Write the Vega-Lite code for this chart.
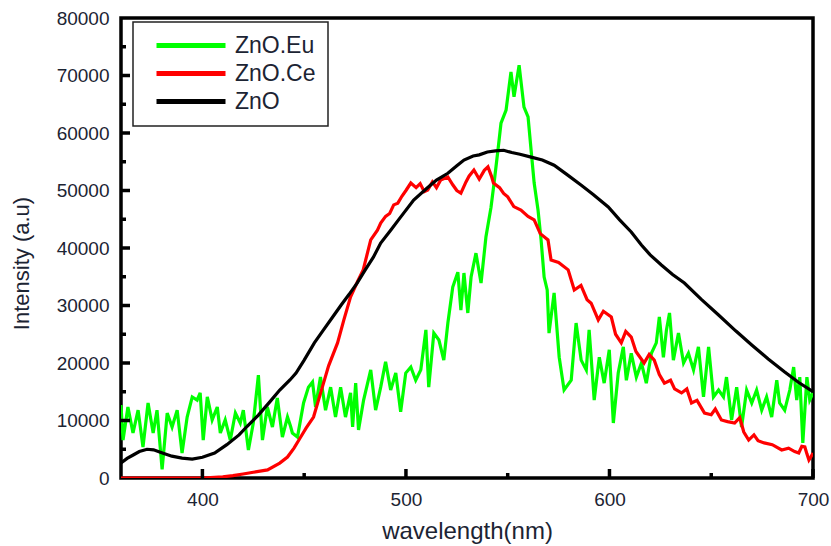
{
  "$schema": "https://vega.github.io/schema/vega-lite/v6.json",
  "width": 692,
  "height": 460,
  "autosize": {"type": "none"},
  "padding": {"left": 121, "top": 18, "right": 18, "bottom": 68},
  "background": "white",
  "config": {
    "view": {"stroke": "black", "strokeWidth": 3.5},
    "font": "Liberation Sans",
    "axis": {"grid": false, "ticks": false, "domain": false, "labelColor": "#1c2433", "labelFontSize": 19, "titleFontWeight": "normal", "titleColor": "#1c2433", "labelFont": "Liberation Sans", "titleFont": "Liberation Sans"}
  },
  "datasets": {
    "xmaj": [{"v":400},{"v":500},{"v":600},{"v":700}],
    "xmin": [{"v":450},{"v":550},{"v":650}],
    "ymaj": [{"v":10000},{"v":20000},{"v":30000},{"v":40000},{"v":50000},{"v":60000},{"v":70000}],
    "ymin": [{"v":5000},{"v":15000},{"v":25000},{"v":35000},{"v":45000},{"v":55000},{"v":65000},{"v":75000}]
  },
  "data": {"values": [
    {"s":"ZnO.Eu","x":360,"y":12700},{"s":"ZnO.Eu","x":361,"y":6600},{"s":"ZnO.Eu","x":363.4,"y":12350},{"s":"ZnO.Eu","x":365.9,"y":7830},{"s":"ZnO.Eu","x":368.4,"y":11800},{"s":"ZnO.Eu","x":370.8,"y":5400},{"s":"ZnO.Eu","x":373.3,"y":13050},{"s":"ZnO.Eu","x":375.8,"y":7830},{"s":"ZnO.Eu","x":377.7,"y":11800},{"s":"ZnO.Eu","x":380.2,"y":1500},{"s":"ZnO.Eu","x":382.7,"y":11300},{"s":"ZnO.Eu","x":385.1,"y":8870},{"s":"ZnO.Eu","x":387.6,"y":11800},{"s":"ZnO.Eu","x":390,"y":4350},{"s":"ZnO.Eu","x":392.5,"y":10600},{"s":"ZnO.Eu","x":395,"y":14100},{"s":"ZnO.Eu","x":397.4,"y":13560},{"s":"ZnO.Eu","x":398.9,"y":14800},{"s":"ZnO.Eu","x":400.4,"y":6600},{"s":"ZnO.Eu","x":402.4,"y":14100},{"s":"ZnO.Eu","x":404.8,"y":10100},{"s":"ZnO.Eu","x":407.3,"y":12350},{"s":"ZnO.Eu","x":408.8,"y":7830},{"s":"ZnO.Eu","x":411.2,"y":10100},{"s":"ZnO.Eu","x":413.7,"y":6600},{"s":"ZnO.Eu","x":416.2,"y":11300},{"s":"ZnO.Eu","x":418.6,"y":9560},{"s":"ZnO.Eu","x":420.1,"y":11800},{"s":"ZnO.Eu","x":422.6,"y":4870},{"s":"ZnO.Eu","x":425,"y":9560},{"s":"ZnO.Eu","x":427.5,"y":17900},{"s":"ZnO.Eu","x":429.5,"y":6600},{"s":"ZnO.Eu","x":431.9,"y":12350},{"s":"ZnO.Eu","x":434.4,"y":8870},{"s":"ZnO.Eu","x":436.8,"y":13900},{"s":"ZnO.Eu","x":439.3,"y":7130},{"s":"ZnO.Eu","x":441.8,"y":10600},{"s":"ZnO.Eu","x":443.3,"y":9000},{"s":"ZnO.Eu","x":444.2,"y":7830},{"s":"ZnO.Eu","x":446.7,"y":7130},{"s":"ZnO.Eu","x":449.7,"y":13050},{"s":"ZnO.Eu","x":452.1,"y":15800},{"s":"ZnO.Eu","x":454.1,"y":16700},{"s":"ZnO.Eu","x":455.6,"y":12350},{"s":"ZnO.Eu","x":458,"y":17550},{"s":"ZnO.Eu","x":460.5,"y":11800},{"s":"ZnO.Eu","x":463,"y":15800},{"s":"ZnO.Eu","x":465.4,"y":10600},{"s":"ZnO.Eu","x":467.9,"y":15800},{"s":"ZnO.Eu","x":470.3,"y":10600},{"s":"ZnO.Eu","x":472.8,"y":14800},{"s":"ZnO.Eu","x":473.8,"y":8870},{"s":"ZnO.Eu","x":475.3,"y":16500},{"s":"ZnO.Eu","x":476.7,"y":8350},{"s":"ZnO.Eu","x":479.2,"y":13560},{"s":"ZnO.Eu","x":482.7,"y":18800},{"s":"ZnO.Eu","x":485.1,"y":11800},{"s":"ZnO.Eu","x":487.6,"y":15800},{"s":"ZnO.Eu","x":490,"y":20200},{"s":"ZnO.Eu","x":492.5,"y":15300},{"s":"ZnO.Eu","x":495,"y":18250},{"s":"ZnO.Eu","x":497.4,"y":11500},{"s":"ZnO.Eu","x":499.9,"y":18250},{"s":"ZnO.Eu","x":502.4,"y":19300},{"s":"ZnO.Eu","x":504.8,"y":17000},{"s":"ZnO.Eu","x":507.3,"y":18800},{"s":"ZnO.Eu","x":509.8,"y":25750},{"s":"ZnO.Eu","x":511.2,"y":15800},{"s":"ZnO.Eu","x":513.7,"y":25200},{"s":"ZnO.Eu","x":516.2,"y":24000},{"s":"ZnO.Eu","x":518.6,"y":20500},{"s":"ZnO.Eu","x":520.6,"y":26950},{"s":"ZnO.Eu","x":523,"y":33200},{"s":"ZnO.Eu","x":525.5,"y":35800},{"s":"ZnO.Eu","x":527,"y":29200},{"s":"ZnO.Eu","x":528.5,"y":35650},{"s":"ZnO.Eu","x":530.4,"y":28700},{"s":"ZnO.Eu","x":532,"y":34950},{"s":"ZnO.Eu","x":534.4,"y":39100},{"s":"ZnO.Eu","x":536.9,"y":33900},{"s":"ZnO.Eu","x":539.3,"y":41900},{"s":"ZnO.Eu","x":541.8,"y":47100},{"s":"ZnO.Eu","x":543.3,"y":51300},{"s":"ZnO.Eu","x":545.2,"y":57000},{"s":"ZnO.Eu","x":546.7,"y":61700},{"s":"ZnO.Eu","x":549.2,"y":64000},{"s":"ZnO.Eu","x":551.6,"y":70600},{"s":"ZnO.Eu","x":553.1,"y":66300},{"s":"ZnO.Eu","x":555.6,"y":71800},{"s":"ZnO.Eu","x":558,"y":64500},{"s":"ZnO.Eu","x":560,"y":62800},{"s":"ZnO.Eu","x":561.5,"y":57000},{"s":"ZnO.Eu","x":563,"y":51300},{"s":"ZnO.Eu","x":564.9,"y":46600},{"s":"ZnO.Eu","x":566.4,"y":41400},{"s":"ZnO.Eu","x":567.9,"y":34950},{"s":"ZnO.Eu","x":569.4,"y":32700},{"s":"ZnO.Eu","x":570.3,"y":25200},{"s":"ZnO.Eu","x":572.8,"y":32200},{"s":"ZnO.Eu","x":575.3,"y":21000},{"s":"ZnO.Eu","x":577.7,"y":15300},{"s":"ZnO.Eu","x":581.2,"y":17000},{"s":"ZnO.Eu","x":583.6,"y":26950},{"s":"ZnO.Eu","x":586.1,"y":20500},{"s":"ZnO.Eu","x":588.6,"y":18800},{"s":"ZnO.Eu","x":590,"y":25750},{"s":"ZnO.Eu","x":591,"y":21000},{"s":"ZnO.Eu","x":592.5,"y":13560},{"s":"ZnO.Eu","x":595,"y":21000},{"s":"ZnO.Eu","x":597.4,"y":16500},{"s":"ZnO.Eu","x":599.9,"y":22300},{"s":"ZnO.Eu","x":601.9,"y":9560},{"s":"ZnO.Eu","x":604.3,"y":18250},{"s":"ZnO.Eu","x":606.8,"y":22800},{"s":"ZnO.Eu","x":608.3,"y":17000},{"s":"ZnO.Eu","x":610.7,"y":21700},{"s":"ZnO.Eu","x":613.2,"y":17550},{"s":"ZnO.Eu","x":615.7,"y":20000},{"s":"ZnO.Eu","x":618.1,"y":16500},{"s":"ZnO.Eu","x":620.6,"y":21700},{"s":"ZnO.Eu","x":623,"y":23500},{"s":"ZnO.Eu","x":624.5,"y":28000},{"s":"ZnO.Eu","x":626.5,"y":21000},{"s":"ZnO.Eu","x":628,"y":25750},{"s":"ZnO.Eu","x":629.5,"y":28700},{"s":"ZnO.Eu","x":631.4,"y":20500},{"s":"ZnO.Eu","x":633.9,"y":25200},{"s":"ZnO.Eu","x":636.4,"y":20000},{"s":"ZnO.Eu","x":638.8,"y":21700},{"s":"ZnO.Eu","x":641.3,"y":18800},{"s":"ZnO.Eu","x":643.7,"y":22800},{"s":"ZnO.Eu","x":646.2,"y":14100},{"s":"ZnO.Eu","x":648.7,"y":22800},{"s":"ZnO.Eu","x":651.1,"y":14100},{"s":"ZnO.Eu","x":653.6,"y":15300},{"s":"ZnO.Eu","x":656,"y":14100},{"s":"ZnO.Eu","x":657.5,"y":17550},{"s":"ZnO.Eu","x":660,"y":10100},{"s":"ZnO.Eu","x":662.5,"y":15800},{"s":"ZnO.Eu","x":664.9,"y":8870},{"s":"ZnO.Eu","x":667.4,"y":15300},{"s":"ZnO.Eu","x":669.9,"y":13050},{"s":"ZnO.Eu","x":672.3,"y":15300},{"s":"ZnO.Eu","x":674.8,"y":11800},{"s":"ZnO.Eu","x":677.2,"y":14100},{"s":"ZnO.Eu","x":679.7,"y":10600},{"s":"ZnO.Eu","x":682.2,"y":17000},{"s":"ZnO.Eu","x":683.6,"y":13050},{"s":"ZnO.Eu","x":686.1,"y":11800},{"s":"ZnO.Eu","x":688.6,"y":15300},{"s":"ZnO.Eu","x":690.5,"y":19300},{"s":"ZnO.Eu","x":692,"y":13560},{"s":"ZnO.Eu","x":693.5,"y":17550},{"s":"ZnO.Eu","x":695,"y":6100},{"s":"ZnO.Eu","x":697,"y":17550},{"s":"ZnO.Eu","x":698.4,"y":13560},{"s":"ZnO.Eu","x":700,"y":14800},
    {"s":"ZnO.Ce","x":360,"y":0},{"s":"ZnO.Ce","x":380,"y":0},{"s":"ZnO.Ce","x":400,"y":0},{"s":"ZnO.Ce","x":410,"y":200},{"s":"ZnO.Ce","x":415,"y":400},{"s":"ZnO.Ce","x":420,"y":700},{"s":"ZnO.Ce","x":425,"y":1000},{"s":"ZnO.Ce","x":432,"y":1400},{"s":"ZnO.Ce","x":438,"y":2600},{"s":"ZnO.Ce","x":441.8,"y":3650},{"s":"ZnO.Ce","x":445,"y":5200},{"s":"ZnO.Ce","x":448,"y":6950},{"s":"ZnO.Ce","x":451,"y":8700},{"s":"ZnO.Ce","x":454.6,"y":10600},{"s":"ZnO.Ce","x":457,"y":13500},{"s":"ZnO.Ce","x":459.5,"y":16500},{"s":"ZnO.Ce","x":462,"y":19500},{"s":"ZnO.Ce","x":466.4,"y":23500},{"s":"ZnO.Ce","x":469.5,"y":27500},{"s":"ZnO.Ce","x":472.8,"y":31500},{"s":"ZnO.Ce","x":476,"y":34000},{"s":"ZnO.Ce","x":479,"y":36200},{"s":"ZnO.Ce","x":482.7,"y":41400},{"s":"ZnO.Ce","x":486,"y":43100},{"s":"ZnO.Ce","x":487.6,"y":44350},{"s":"ZnO.Ce","x":490,"y":45500},{"s":"ZnO.Ce","x":492,"y":46000},{"s":"ZnO.Ce","x":494,"y":47500},{"s":"ZnO.Ce","x":496,"y":47800},{"s":"ZnO.Ce","x":498,"y":49000},{"s":"ZnO.Ce","x":500,"y":50000},{"s":"ZnO.Ce","x":502.4,"y":51300},{"s":"ZnO.Ce","x":505,"y":50500},{"s":"ZnO.Ce","x":507,"y":51200},{"s":"ZnO.Ce","x":509,"y":49800},{"s":"ZnO.Ce","x":510.7,"y":50100},{"s":"ZnO.Ce","x":513,"y":51500},{"s":"ZnO.Ce","x":515,"y":50500},{"s":"ZnO.Ce","x":517,"y":51800},{"s":"ZnO.Ce","x":520.6,"y":52350},{"s":"ZnO.Ce","x":523,"y":51000},{"s":"ZnO.Ce","x":525,"y":50000},{"s":"ZnO.Ce","x":527,"y":49550},{"s":"ZnO.Ce","x":529.5,"y":51500},{"s":"ZnO.Ce","x":531,"y":52500},{"s":"ZnO.Ce","x":533.4,"y":53560},{"s":"ZnO.Ce","x":536,"y":52000},{"s":"ZnO.Ce","x":538.5,"y":53500},{"s":"ZnO.Ce","x":540.3,"y":54100},{"s":"ZnO.Ce","x":542,"y":52500},{"s":"ZnO.Ce","x":543,"y":51300},{"s":"ZnO.Ce","x":546,"y":50500},{"s":"ZnO.Ce","x":548,"y":49500},{"s":"ZnO.Ce","x":550,"y":48900},{"s":"ZnO.Ce","x":553,"y":47200},{"s":"ZnO.Ce","x":556.5,"y":46600},{"s":"ZnO.Ce","x":560,"y":45500},{"s":"ZnO.Ce","x":563,"y":44900},{"s":"ZnO.Ce","x":566,"y":42500},{"s":"ZnO.Ce","x":569.8,"y":41400},{"s":"ZnO.Ce","x":571.3,"y":37900},{"s":"ZnO.Ce","x":575,"y":37500},{"s":"ZnO.Ce","x":579.7,"y":36200},{"s":"ZnO.Ce","x":582.7,"y":32700},{"s":"ZnO.Ce","x":586,"y":33500},{"s":"ZnO.Ce","x":589,"y":31000},{"s":"ZnO.Ce","x":591,"y":30400},{"s":"ZnO.Ce","x":594.5,"y":27500},{"s":"ZnO.Ce","x":597,"y":29000},{"s":"ZnO.Ce","x":600.9,"y":28000},{"s":"ZnO.Ce","x":603,"y":25000},{"s":"ZnO.Ce","x":605.8,"y":23500},{"s":"ZnO.Ce","x":608,"y":25500},{"s":"ZnO.Ce","x":610.7,"y":24500},{"s":"ZnO.Ce","x":613,"y":22000},{"s":"ZnO.Ce","x":617,"y":20000},{"s":"ZnO.Ce","x":619.5,"y":21500},{"s":"ZnO.Ce","x":622,"y":20500},{"s":"ZnO.Ce","x":624.5,"y":18000},{"s":"ZnO.Ce","x":627,"y":16500},{"s":"ZnO.Ce","x":630,"y":17000},{"s":"ZnO.Ce","x":632,"y":15500},{"s":"ZnO.Ce","x":635.4,"y":14800},{"s":"ZnO.Ce","x":638,"y":15500},{"s":"ZnO.Ce","x":640.3,"y":13050},{"s":"ZnO.Ce","x":643,"y":13500},{"s":"ZnO.Ce","x":646.7,"y":11300},{"s":"ZnO.Ce","x":650,"y":11000},{"s":"ZnO.Ce","x":652,"y":12000},{"s":"ZnO.Ce","x":655,"y":10100},{"s":"ZnO.Ce","x":658,"y":9800},{"s":"ZnO.Ce","x":661.5,"y":9560},{"s":"ZnO.Ce","x":664,"y":10500},{"s":"ZnO.Ce","x":666,"y":8000},{"s":"ZnO.Ce","x":668.4,"y":6600},{"s":"ZnO.Ce","x":671,"y":7500},{"s":"ZnO.Ce","x":673,"y":6500},{"s":"ZnO.Ce","x":676,"y":6100},{"s":"ZnO.Ce","x":680,"y":5800},{"s":"ZnO.Ce","x":684.6,"y":4870},{"s":"ZnO.Ce","x":688,"y":5200},{"s":"ZnO.Ce","x":691,"y":4600},{"s":"ZnO.Ce","x":693,"y":4350},{"s":"ZnO.Ce","x":694.5,"y":5500},{"s":"ZnO.Ce","x":696,"y":5400},{"s":"ZnO.Ce","x":697,"y":4200},{"s":"ZnO.Ce","x":698,"y":3130},{"s":"ZnO.Ce","x":699,"y":3700},{"s":"ZnO.Ce","x":700,"y":4350},
    {"s":"ZnO","x":360,"y":2600},{"s":"ZnO","x":363,"y":3400},{"s":"ZnO","x":366,"y":4000},{"s":"ZnO","x":369,"y":4600},{"s":"ZnO","x":372.8,"y":5000},{"s":"ZnO","x":376,"y":4900},{"s":"ZnO","x":380,"y":4400},{"s":"ZnO","x":385,"y":3800},{"s":"ZnO","x":390,"y":3450},{"s":"ZnO","x":395,"y":3300},{"s":"ZnO","x":400,"y":3600},{"s":"ZnO","x":406,"y":4350},{"s":"ZnO","x":412,"y":5800},{"s":"ZnO","x":418,"y":7500},{"s":"ZnO","x":422,"y":9000},{"s":"ZnO","x":427.5,"y":10950},{"s":"ZnO","x":433,"y":13200},{"s":"ZnO","x":438,"y":15300},{"s":"ZnO","x":443,"y":17050},{"s":"ZnO","x":446,"y":18250},{"s":"ZnO","x":450,"y":20500},{"s":"ZnO","x":455,"y":23500},{"s":"ZnO","x":459.5,"y":25750},{"s":"ZnO","x":464,"y":28000},{"s":"ZnO","x":468,"y":30000},{"s":"ZnO","x":472,"y":31900},{"s":"ZnO","x":476,"y":33900},{"s":"ZnO","x":480,"y":36200},{"s":"ZnO","x":484,"y":38400},{"s":"ZnO","x":487.6,"y":40870},{"s":"ZnO","x":492.5,"y":43100},{"s":"ZnO","x":497,"y":45200},{"s":"ZnO","x":503.8,"y":48350},{"s":"ZnO","x":510,"y":50300},{"s":"ZnO","x":515,"y":51800},{"s":"ZnO","x":520.6,"y":53000},{"s":"ZnO","x":525,"y":54300},{"s":"ZnO","x":528.5,"y":55300},{"s":"ZnO","x":533,"y":56000},{"s":"ZnO","x":536,"y":56200},{"s":"ZnO","x":540,"y":56700},{"s":"ZnO","x":544,"y":56900},{"s":"ZnO","x":548,"y":57000},{"s":"ZnO","x":552,"y":56600},{"s":"ZnO","x":556,"y":56300},{"s":"ZnO","x":561.5,"y":55800},{"s":"ZnO","x":567,"y":55300},{"s":"ZnO","x":572.8,"y":54400},{"s":"ZnO","x":579,"y":52800},{"s":"ZnO","x":586,"y":50950},{"s":"ZnO","x":592,"y":49300},{"s":"ZnO","x":599.4,"y":47130},{"s":"ZnO","x":605,"y":44900},{"s":"ZnO","x":610.7,"y":42780},{"s":"ZnO","x":615.7,"y":40520},{"s":"ZnO","x":620,"y":38800},{"s":"ZnO","x":625.5,"y":37040},{"s":"ZnO","x":631,"y":35400},{"s":"ZnO","x":636.8,"y":33910},{"s":"ZnO","x":645,"y":31100},{"s":"ZnO","x":653.6,"y":28350},{"s":"ZnO","x":662,"y":25600},{"s":"ZnO","x":669.9,"y":23130},{"s":"ZnO","x":678,"y":20700},{"s":"ZnO","x":686.1,"y":18430},{"s":"ZnO","x":693,"y":16600},{"s":"ZnO","x":700,"y":15000}
  ]},
  "layer": [
    {
      "mark": {"type": "line", "strokeWidth": 3.2, "clip": true},
      "encoding": {
        "x": {"field": "x", "type": "quantitative",
          "scale": {"domain": [360, 700], "nice": false, "zero": false},
          "axis": {"orient": "bottom", "values": [400, 500, 600, 700],
            "labelPadding": 12, "labelFlush": false, "labelOverlap": false,
            "title": "wavelength(nm)", "titleFontSize": 24, "titlePadding": 10}},
        "y": {"field": "y", "type": "quantitative",
          "scale": {"domain": [0, 80000], "nice": false},
          "axis": {"orient": "left", "values": [0,10000,20000,30000,40000,50000,60000,70000,80000], "format": "d",
            "labelPadding": 12, "labelFlush": false, "labelOverlap": false,
            "title": "Intensity (a.u)", "titleFontSize": 22, "titleX": -100, "titleY": 245, "titleBaseline": "middle", "titleAngle": 270}},
        "color": {"field": "s", "type": "nominal",
          "scale": {"domain": ["ZnO.Eu", "ZnO.Ce", "ZnO"], "range": ["#00ff00", "#ff0000", "#000000"]},
          "legend": {"title": null, "orient": "none", "legendX": 12, "legendY": 4,
            "strokeColor": "#222", "fillColor": "white", "padding": 12,
            "symbolType": "stroke", "symbolSize": 4761, "symbolStrokeWidth": 5, "symbolOffset": 9,
            "clipHeight": 23, "rowPadding": 4, "labelFontSize": 23, "labelOffset": 7, "labelColor": "#1c2433", "labelFont": "Liberation Sans",
            "encode": {"legend": {"update": {"strokeWidth": {"value": 1.5}}}}}},
        "order": {"field": "x", "type": "quantitative"}
      }
    },
    {
      "data": {"name": "xmaj"},
      "mark": {"type": "tick", "orient": "vertical", "color": "#000000", "opacity": 1, "size": 9, "thickness": 3.5, "yOffset": -4.5},
      "encoding": {"x": {"field": "v", "type": "quantitative"}, "y": {"datum": 0, "type": "quantitative"}}
    },
    {
      "data": {"name": "xmin"},
      "mark": {"type": "tick", "orient": "vertical", "color": "#000000", "opacity": 1, "size": 5, "thickness": 3.5, "yOffset": -2.5},
      "encoding": {"x": {"field": "v", "type": "quantitative"}, "y": {"datum": 0, "type": "quantitative"}}
    },
    {
      "data": {"name": "ymaj"},
      "mark": {"type": "tick", "orient": "horizontal", "color": "#000000", "opacity": 1, "size": 9, "thickness": 3.5, "xOffset": 4.5},
      "encoding": {"y": {"field": "v", "type": "quantitative"}, "x": {"datum": 360, "type": "quantitative"}}
    },
    {
      "data": {"name": "ymin"},
      "mark": {"type": "tick", "orient": "horizontal", "color": "#000000", "opacity": 1, "size": 5, "thickness": 3.5, "xOffset": 2.5},
      "encoding": {"y": {"field": "v", "type": "quantitative"}, "x": {"datum": 360, "type": "quantitative"}}
    }
  ]
}
